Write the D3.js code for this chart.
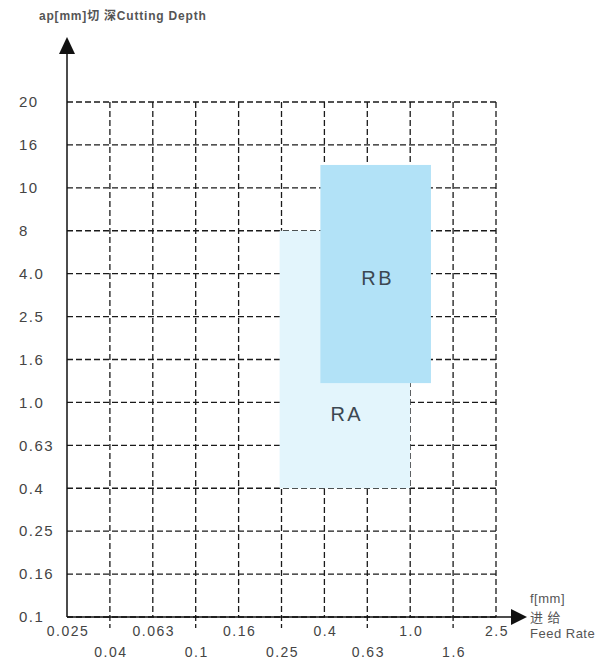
<!DOCTYPE html>
<html>
<head>
<meta charset="utf-8">
<script src="https://cdn.jsdelivr.net/npm/d3@7"></script>
<style>
  body { margin: 0; background: #fff; }
  text { font-family: "Liberation Sans", Arial, sans-serif; }
</style>
</head>
<body>
<svg id="chart"></svg>
<script>
// Axis values (Renard series on the feed axis)
const feedValues = [0.025, 0.04, 0.063, 0.1, 0.16, 0.25, 0.4, 0.63, 1.0, 1.6, 2.5];
const feedLabels = ["0.025", "0.04", "0.063", "0.1", "0.16", "0.25", "0.4", "0.63", "1.0", "1.6", "2.5"];
const depthValues = [0.1, 0.16, 0.25, 0.4, 0.63, 1.0, 1.6, 2.5, 4.0, 8, 10, 16, 20];
const depthLabels = ["0.1", "0.16", "0.25", "0.4", "0.63", "1.0", "1.6", "2.5", "4.0", "8", "10", "16", "20"];

// Application zones: feed range and depth range
const zoneNames = ["RA", "RB"];
const zoneFeed = [[0.246, 1.0], [0.386, 1.29]];
const zoneDepth = [[0.4, 8], [1.27, 13.2]];
// where the zone names sit (feed, depth)
const zoneLabelPos = [[0.52, 0.9], [0.72, 3.85]];

const W = 610, H = 662;
const plotLeft = 67, plotRight = 496, plotTop = 102, plotBottom = 617;

const svg = d3.select("#chart")
    .attr("width", W)
    .attr("height", H);

// Piecewise scales: every label gets the same spacing
const x = d3.scaleLinear()
    .domain(feedValues)
    .range(feedValues.map((d, i) => plotLeft + i * (plotRight - plotLeft) / (feedValues.length - 1)));

const y = d3.scaleLinear()
    .domain(depthValues)
    .range(depthValues.map((d, i) => plotBottom - i * (plotBottom - plotTop) / (depthValues.length - 1)));

const gridColor = "#1a1a1a";

// Vertical grid lines
svg.append("g")
    .selectAll("line")
    .data(feedValues.slice(1))
    .enter()
    .append("line")
    .attr("x1", d => x(d))
    .attr("x2", d => x(d))
    .attr("y1", y(20))
    .attr("y2", y(0.1))
    .attr("stroke", gridColor)
    .attr("stroke-width", 1.3)
    .attr("stroke-dasharray", "6,3");

// Horizontal grid lines
svg.append("g")
    .selectAll("line")
    .data(depthValues)
    .enter()
    .append("line")
    .attr("x1", x(0.025))
    .attr("x2", x(2.5))
    .attr("y1", d => y(d))
    .attr("y2", d => y(d))
    .attr("stroke", gridColor)
    .attr("stroke-width", 1.3)
    .attr("stroke-dasharray", "6,3");

// Short ticks below the axis for the second row of labels
svg.append("g")
    .selectAll("line")
    .data(feedValues.filter((d, i) => i % 2 === 1))
    .enter()
    .append("line")
    .attr("x1", d => x(d))
    .attr("x2", d => x(d))
    .attr("y1", y(0.1))
    .attr("y2", y(0.1) + 12)
    .attr("stroke", gridColor)
    .attr("stroke-width", 1.3)
    .attr("stroke-dasharray", "4,3");

// Zones
const zoneColor = d3.scaleOrdinal()
    .domain(zoneNames)
    .range(["#e3f5fc", "#b2e2f7"]);

svg.append("g")
    .selectAll("rect")
    .data(zoneNames)
    .enter()
    .append("rect")
    .attr("x", (d, i) => x(zoneFeed[i][0]))
    .attr("y", (d, i) => y(zoneDepth[i][1]))
    .attr("width", (d, i) => x(zoneFeed[i][1]) - x(zoneFeed[i][0]))
    .attr("height", (d, i) => y(zoneDepth[i][0]) - y(zoneDepth[i][1]))
    .attr("fill", d => zoneColor(d));

// Zone labels
svg.append("g")
    .selectAll("text")
    .data(zoneNames)
    .enter()
    .append("text")
    .attr("x", (d, i) => x(zoneLabelPos[i][0]))
    .attr("y", (d, i) => y(zoneLabelPos[i][1]))
    .attr("dy", "0.35em")
    .attr("text-anchor", "middle")
    .attr("fill", "#3c4852")
    .style("font-size", "20px")
    .style("letter-spacing", "2.5px")
    .text(d => d);

// Y axis with arrow
svg.append("line")
    .attr("x1", plotLeft).attr("x2", plotLeft)
    .attr("y1", plotBottom).attr("y2", 50)
    .attr("stroke", "#111")
    .attr("stroke-width", 1.5);
svg.append("path")
    .attr("d", `M${plotLeft},37 L${plotLeft - 8},54 L${plotLeft + 8},54 Z`)
    .attr("fill", "#111");

// X axis with arrow
svg.append("line")
    .attr("x1", plotLeft).attr("x2", 514)
    .attr("y1", plotBottom).attr("y2", plotBottom)
    .attr("stroke", "#111")
    .attr("stroke-width", 1.5);
svg.append("path")
    .attr("d", `M527,${plotBottom} L511,${plotBottom - 8} L511,${plotBottom + 8} Z`)
    .attr("fill", "#111");

// Y tick labels
svg.append("g")
    .selectAll("text")
    .data(depthValues)
    .enter()
    .append("text")
    .attr("x", 19)
    .attr("y", d => y(d))
    .attr("dy", "0.35em")
    .attr("fill", "#444")
    .style("font-size", "15px")
    .style("letter-spacing", "1.5px")
    .text((d, i) => depthLabels[i]);

// X tick labels on two rows
svg.append("g")
    .selectAll("text")
    .data(feedValues)
    .enter()
    .append("text")
    .attr("x", d => x(d) + 1)
    .attr("y", (d, i) => i % 2 === 0 ? plotBottom + 19 : plotBottom + 40)
    .attr("text-anchor", "middle")
    .attr("fill", "#444")
    .style("font-size", "14px")
    .style("letter-spacing", "1.5px")
    .text((d, i) => feedLabels[i]);

// Axis titles
svg.append("text")
    .attr("x", 39)
    .attr("y", 20)
    .attr("fill", "#555")
    .style("font-size", "12px")
    .style("font-weight", "bold")
    .style("letter-spacing", "0.8px")
    .style("font-family", "'Liberation Sans', 'Noto Sans CJK SC', sans-serif")
    .text("ap[mm]切 深Cutting Depth");

const feedTitle = svg.append("text")
    .attr("fill", "#555")
    .style("font-size", "13px")
    .style("letter-spacing", "0.5px")
    .style("font-family", "'Liberation Sans', 'Noto Sans CJK SC', sans-serif");
feedTitle.append("tspan").attr("x", 530).attr("y", 603).text("f[mm]");
feedTitle.append("tspan").attr("x", 530).attr("y", 622).text("进 给");
feedTitle.append("tspan").attr("x", 530).attr("y", 638).text("Feed Rate");
</script>
</body>
</html>
